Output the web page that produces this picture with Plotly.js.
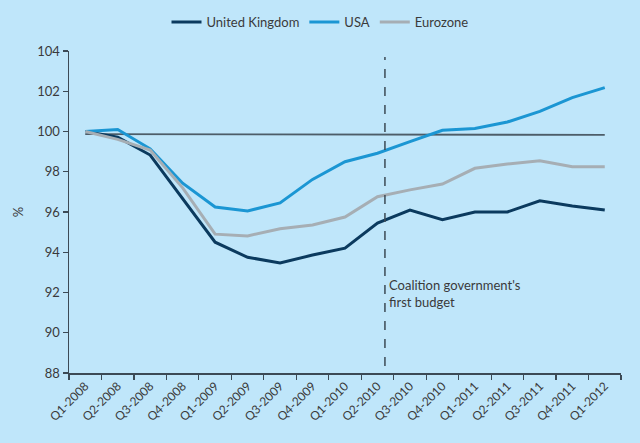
<!DOCTYPE html>
<html>
<head>
<meta charset="utf-8">
<script src="https://cdn.plot.ly/plotly-3.0.1.min.js"></script>
<style>
html,body{margin:0;padding:0;background:#bfe6fa;}
#chart{width:640px;height:443px;}
</style>
</head>
<body>
<div id="chart"></div>
<script>
const quarters = ["Q1-2008","Q2-2008","Q3-2008","Q4-2008","Q1-2009","Q2-2009","Q3-2009","Q4-2009","Q1-2010","Q2-2010","Q3-2010","Q4-2010","Q1-2011","Q2-2011","Q3-2011","Q4-2011","Q1-2012"];
const ukValues = [100, 99.72, 98.83, 96.68, 94.5, 93.75, 93.47, 93.86, 94.2, 95.45, 96.1, 95.62, 96.0, 96.0, 96.56, 96.3, 96.1];
const usaValues = [100, 100.1, 99.14, 97.43, 96.25, 96.05, 96.45, 97.62, 98.5, 98.92, 99.5, 100.06, 100.15, 100.47, 101.0, 101.68, 102.18];
const euroValues = [100, 99.61, 99.08, 97.2, 94.9, 94.81, 95.17, 95.35, 95.75, 96.76, 97.1, 97.39, 98.17, 98.38, 98.55, 98.25, 98.25];
const refX = ["Q1-2008", "Q1-2012"];
const refValues = [99.87, 99.83];
const budgetPosition = 9.23;
const budgetLabel = "Coalition government's<br>first budget";

const font = "Lato, 'Open Sans', sans-serif";
const axisColor = "#3c4a55";
const textColor = "#3a3a3a";

const traces = [
  {x: refX, y: refValues, mode: "lines", line: {color: "#4d5d68", width: 1.8}, showlegend: false, hoverinfo: "skip"},
  {x: quarters, y: ukValues, name: "United Kingdom", mode: "lines", line: {color: "#0b3a5e", width: 3}},
  {x: quarters, y: usaValues, name: "USA", mode: "lines", line: {color: "#1b96d3", width: 3}},
  {x: quarters, y: euroValues, name: "Eurozone", mode: "lines", line: {color: "#a6aeb4", width: 3}}
];

const layout = {
  width: 640, height: 443,
  paper_bgcolor: "#bfe6fa", plot_bgcolor: "#bfe6fa",
  margin: {l: 69, r: 19, t: 51, b: 70},
  font: {family: font, size: 13, color: textColor},
  showlegend: true,
  legend: {orientation: "h", xref: "container", x: 0.5, xanchor: "center", y: 0.95, yanchor: "middle", yref: "container", font: {size: 13, color: textColor}, bgcolor: "rgba(0,0,0,0)", traceorder: "normal"},
  xaxis: {
    type: "category", categoryorder: "array", categoryarray: quarters,
    range: [-0.5, 16.5], tickson: "boundaries",
    ticks: "outside", ticklen: 5, tickwidth: 1.2, tickcolor: axisColor,
    showline: true, linecolor: axisColor, linewidth: 1.5,
    showgrid: false, tickangle: -45, tickfont: {size: 12, color: textColor}
  },
  yaxis: {
    range: [88, 104], dtick: 2, ticks: "outside", ticklen: 5, tickwidth: 1.2, tickcolor: axisColor,
    showline: true, linecolor: axisColor, linewidth: 1.5,
    showgrid: false, zeroline: false, tickfont: {size: 13, color: textColor},
    title: {text: "%", standoff: 10, font: {size: 13, color: textColor}}
  },
  shapes: [
    {type: "line", xref: "x", yref: "y", x0: budgetPosition, x1: budgetPosition, y0: 88.35, y1: 103.7,
     line: {color: axisColor, width: 1.5, dash: "dash"}}
  ],
  annotations: [
    {x: budgetPosition, y: 91.97, xref: "x", yref: "y", text: budgetLabel, showarrow: false,
     xanchor: "left", yanchor: "middle", align: "left", xshift: 2, font: {size: 13, color: textColor}}
  ]
};

Plotly.newPlot("chart", traces, layout, {displayModeBar: false, staticPlot: true});
</script>
</body>
</html>
